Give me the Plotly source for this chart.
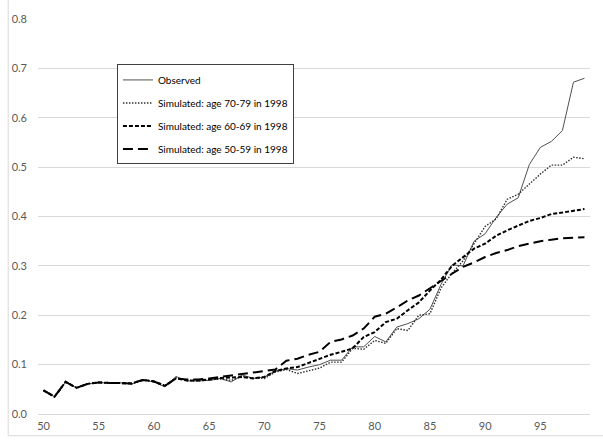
import plotly.graph_objects as go

ages = list(range(50, 100))

observed = [0.048, 0.035, 0.065, 0.053, 0.061, 0.064, 0.062, 0.063, 0.061, 0.069,
            0.065, 0.055, 0.076, 0.067, 0.067, 0.068, 0.072, 0.065, 0.079, 0.072,
            0.075, 0.087, 0.092, 0.089, 0.095, 0.100, 0.109, 0.109, 0.136, 0.136,
            0.157, 0.146, 0.176, 0.183, 0.193, 0.212, 0.262, 0.302, 0.300, 0.350,
            0.365, 0.398, 0.425, 0.438, 0.505, 0.540, 0.552, 0.574, 0.672, 0.680]

sim_70_79 = [0.048, 0.035, 0.065, 0.053, 0.061, 0.064, 0.062, 0.063, 0.061, 0.069,
             0.066, 0.058, 0.073, 0.068, 0.067, 0.069, 0.071, 0.068, 0.076, 0.073,
             0.072, 0.085, 0.090, 0.082, 0.087, 0.093, 0.105, 0.105, 0.133, 0.131,
             0.149, 0.143, 0.173, 0.169, 0.200, 0.203, 0.255, 0.285, 0.310, 0.345,
             0.380, 0.395, 0.435, 0.445, 0.466, 0.486, 0.504, 0.504, 0.520, 0.517]

sim_60_69 = [0.048, 0.035, 0.065, 0.053, 0.061, 0.064, 0.063, 0.063, 0.062, 0.069,
             0.066, 0.057, 0.072, 0.068, 0.068, 0.070, 0.073, 0.074, 0.075, 0.072,
             0.075, 0.087, 0.092, 0.095, 0.103, 0.112, 0.120, 0.126, 0.133, 0.156,
             0.166, 0.186, 0.193, 0.210, 0.226, 0.250, 0.272, 0.300, 0.317, 0.335,
             0.345, 0.361, 0.372, 0.381, 0.391, 0.397, 0.405, 0.408, 0.412, 0.415]

sim_50_59 = [0.048, 0.035, 0.065, 0.053, 0.061, 0.064, 0.063, 0.063, 0.062, 0.069,
             0.066, 0.057, 0.072, 0.070, 0.070, 0.072, 0.075, 0.078, 0.080, 0.083,
             0.087, 0.090, 0.108, 0.112, 0.120, 0.126, 0.146, 0.151, 0.159, 0.173,
             0.197, 0.203, 0.216, 0.230, 0.240, 0.255, 0.270, 0.284, 0.298, 0.307,
             0.318, 0.326, 0.332, 0.340, 0.345, 0.350, 0.353, 0.356, 0.357, 0.358]

x_tick_vals = [50, 55, 60, 65, 70, 75, 80, 85, 90, 95]
x_tick_text = ["50", "55", "60", "65", "70", "75", "80", "85", "90", "95"]
y_tick_vals = [0.0, 0.1, 0.2, 0.3, 0.4, 0.5, 0.6, 0.7, 0.8]
y_tick_text = ["0.0", "0.1", "0.2", "0.3", "0.4", "0.5", "0.6", "0.7", "0.8"]

series = [
    ("Observed", observed, dict(color="#505050", width=1, dash="solid")),
    ("Simulated: age 70-79 in 1998", sim_70_79, dict(color="#303030", width=1.4, dash="1.5px,1.5px")),
    ("Simulated: age 60-69 in 1998", sim_60_69, dict(color="#000000", width=2, dash="4px,2px")),
    ("Simulated: age 50-59 in 1998", sim_50_59, dict(color="#000000", width=2, dash="10px,5px")),
]

fig = go.Figure()
for i, (name, vals, line) in enumerate(series):
    fig.add_trace(go.Scatter(x=ages, y=vals, mode="lines", name=name, line=line,
                             legendgroup=f"g{i}"))

font_family = "Lato, 'Open Sans', sans-serif"
fig.update_layout(
    width=603, height=448,
    margin=dict(l=38, r=13, t=17, b=34),
    paper_bgcolor="white", plot_bgcolor="white",
    font=dict(family=font_family, size=11, color="#595959"),
    showlegend=True,
    legend=dict(
        x=0.143, y=0.885, xanchor="left", yanchor="top",
        bordercolor="#404040", borderwidth=1, bgcolor="white",
        font=dict(size=10, color="#000000"),
        traceorder="grouped", tracegroupgap=4,
        itemwidth=30,
    ),
    xaxis=dict(
        range=[49.5, 99.5], tickmode="array", tickvals=x_tick_vals, ticktext=x_tick_text,
        showgrid=False, zeroline=False, showline=True, linecolor="#d9d9d9", linewidth=1,
        ticks="", ticklabelstandoff=2,
    ),
    yaxis=dict(
        range=[0, 0.8], tickmode="array", tickvals=y_tick_vals, ticktext=y_tick_text,
        showgrid=True, gridcolor="#d9d9d9", gridwidth=1, zeroline=False, showline=False,
        ticks="", ticklabelstandoff=10,
    ),
    shapes=[
        dict(type="line", xref="paper", yref="paper", x0=-0.054, x1=-0.054, y0=-0.055, y1=1.1,
             line=dict(color="#d9d9d9", width=1)),
        dict(type="line", xref="paper", yref="paper", x0=-0.054, x1=1.05, y0=-0.055, y1=-0.055,
             line=dict(color="#d9d9d9", width=1)),
    ],
)

fig.write_html("out.html", config={"displayModeBar": False},
               post_script="document.body.style.margin='0';")
